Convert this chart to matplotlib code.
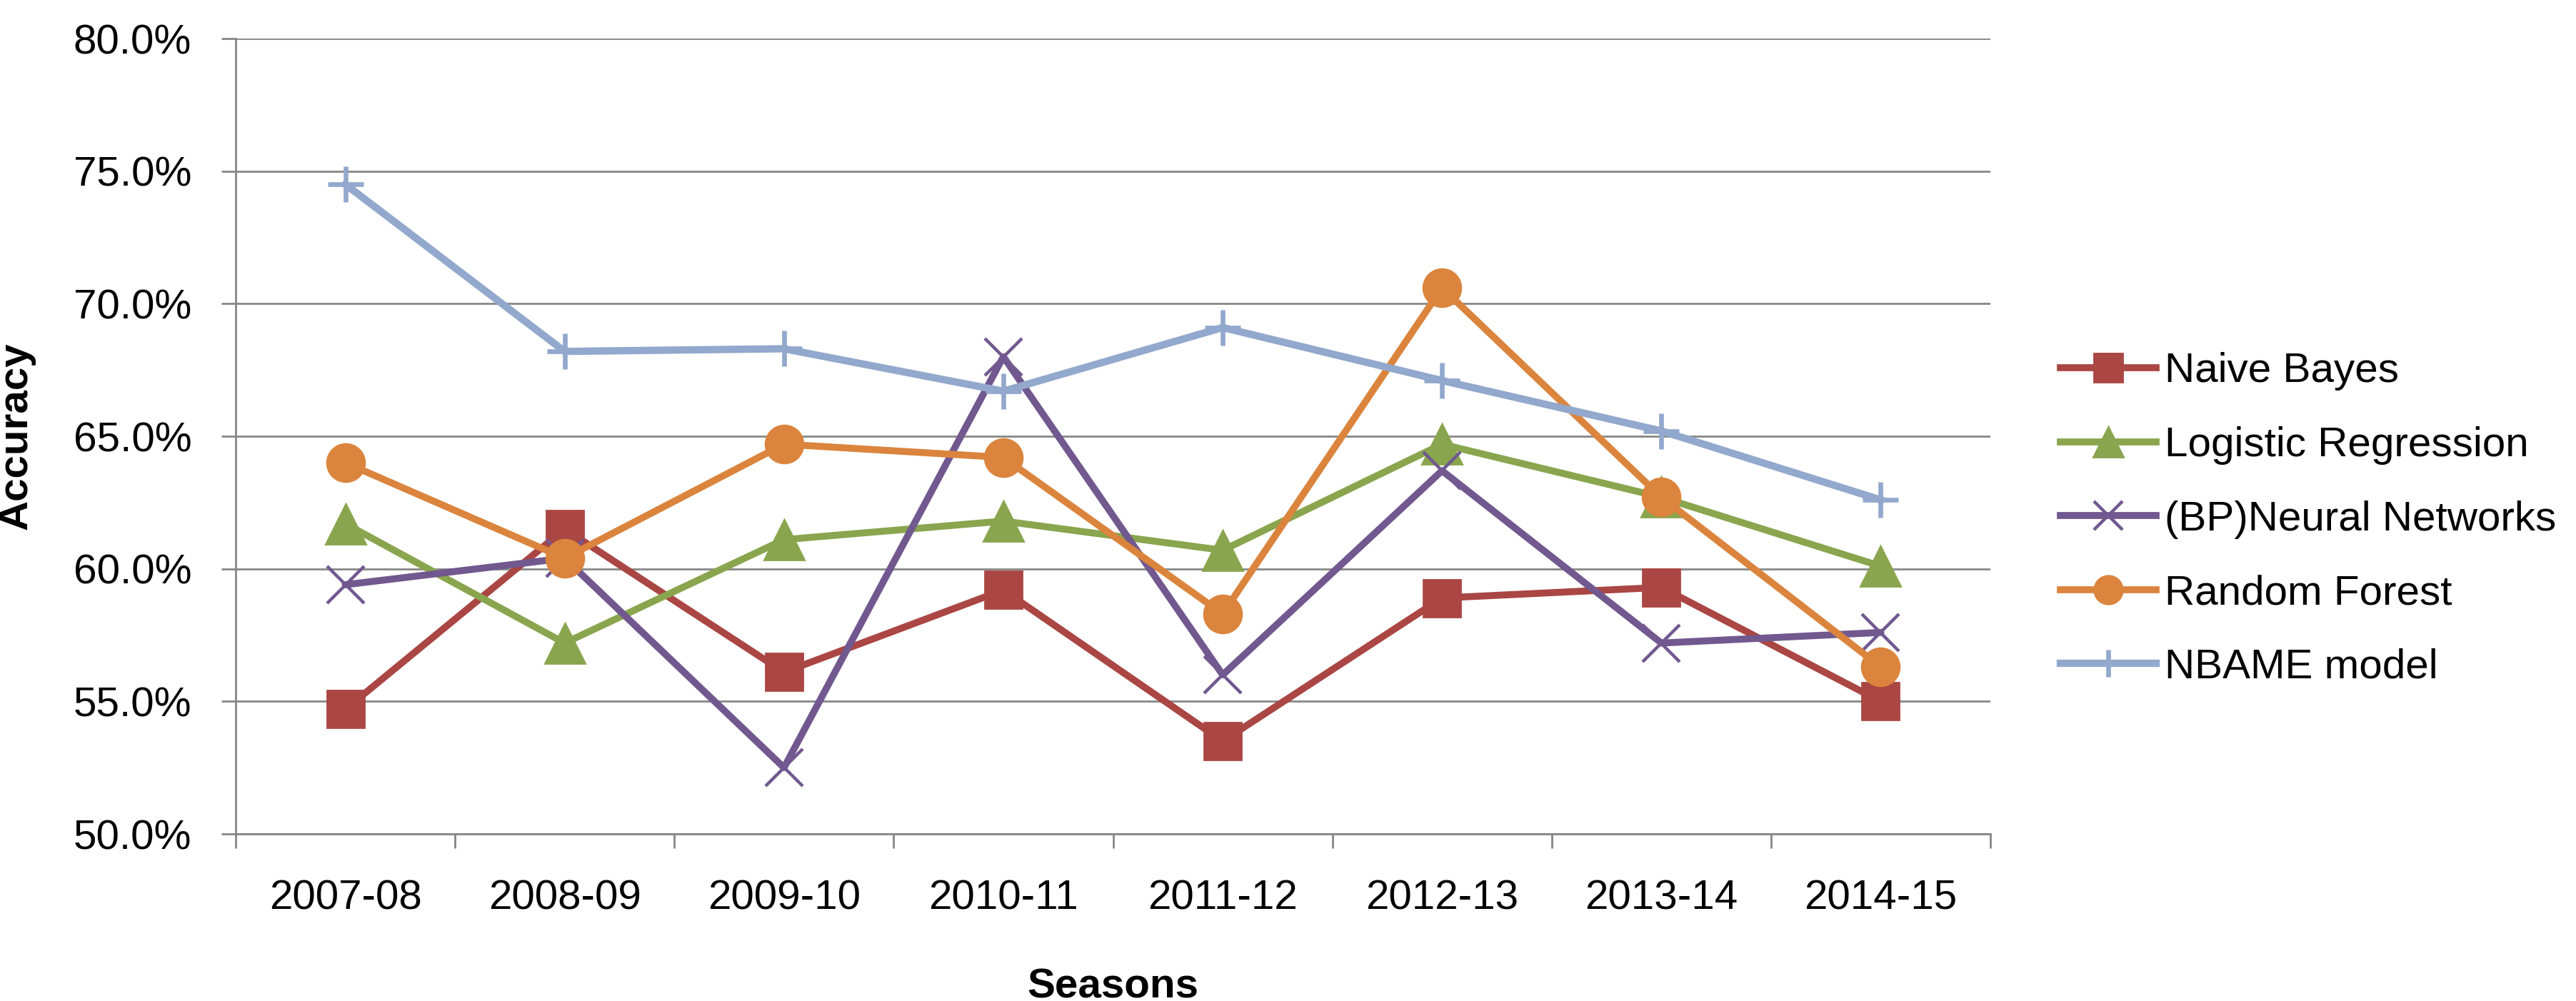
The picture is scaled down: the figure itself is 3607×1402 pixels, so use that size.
import numpy as np
import matplotlib
matplotlib.use("Agg")
import matplotlib.pyplot as plt
from matplotlib.ticker import FuncFormatter

plt.rcParams['font.family'] = ['Liberation Sans', 'DejaVu Sans']

# seasons on the x axis
seasons = ['2007-08', '2008-09', '2009-10', '2010-11',
           '2011-12', '2012-13', '2013-14', '2014-15']

# accuracy in percent
naive_bayes = [54.7, 61.5, 56.1, 59.2, 53.5, 58.9, 59.3, 55.0]
logistic_reg = [61.7, 57.2, 61.1, 61.8, 60.7, 64.7, 62.7, 60.1]
bp_neural = [59.4, 60.4, 52.5, 68.0, 56.0, 63.7, 57.2, 57.6]
random_forest = [64.0, 60.4, 64.7, 64.2, 58.3, 70.6, 62.7, 56.3]
nbame = [74.5, 68.2, 68.3, 66.7, 69.1, 67.1, 65.2, 62.6]

names = ['Naive Bayes', 'Logistic Regression', '(BP)Neural Networks',
         'Random Forest', 'NBAME model']
colors = ['#AA4643', '#89A54E', '#71588F', '#DB843D', '#92A8CD']

grey = '#868686'

fig = plt.figure(figsize=(3607 / 200, 1402 / 200), dpi=200)
ax = fig.add_axes([330 / 3607, 1 - 1168 / 1402,
                   (2787 - 330) / 3607, (1168 - 54) / 1402])

x = np.arange(1, len(seasons) + 1)

ax.plot(x, naive_bayes, color=colors[0], lw=3.5, marker='s', ms=19,
        mec=colors[0], mfc=colors[0], label=names[0])
ax.plot(x, logistic_reg, color=colors[1], lw=3.5, marker='^', ms=20.5,
        mec=colors[1], mfc=colors[1], label=names[1])
ax.plot(x, bp_neural, color=colors[2], lw=3.5, marker='x', ms=19,
        mew=1.6, mec=colors[2], label=names[2])
ax.plot(x, random_forest, color=colors[3], lw=3.5, marker='o', ms=19,
        mec=colors[3], mfc=colors[3], label=names[3])
ax.plot(x, nbame, color=colors[4], lw=3.7, marker='+', ms=18,
        mew=2.4, mec=colors[4], label=names[4])

ax.set_xlim(0.5, len(seasons) + 0.5)
ax.set_ylim(50, 80)
ax.set_yticks(np.arange(50, 80.1, 5))
ax.yaxis.set_major_formatter(FuncFormatter(lambda v, p: '%.1f%%' % v))

# ticks on category borders, labels in the middle
ax.set_xticks(np.arange(0.5, len(seasons) + 1, 1))
ax.set_xticklabels([])
ax.set_xticks(x, minor=True)
ax.set_xticklabels(seasons, minor=True)

ax.tick_params(axis='x', which='major', length=7.2, width=1.0, color=grey)
ax.tick_params(axis='x', which='minor', length=0, pad=23, labelsize=21)
ax.tick_params(axis='y', length=7.2, width=1.0, color=grey, pad=15,
               labelsize=21)

ax.grid(axis='y', color=grey, lw=1.0)
ax.set_axisbelow(True)
for s in ['top', 'right']:
    ax.spines[s].set_visible(False)
for s in ['left', 'bottom']:
    ax.spines[s].set_color(grey)
    ax.spines[s].set_linewidth(1.0)

ax.set_ylabel('Accuracy', fontsize=21, fontweight='bold')
ax.yaxis.set_label_coords(-0.114, 0.5)
ax.set_xlabel('Seasons', fontsize=21, fontweight='bold')
ax.xaxis.set_label_coords(0.5, -0.168)

fig.legend(loc='center left', bbox_to_anchor=(2885 / 3607, 0.481),
           frameon=False, fontsize=21, handlelength=2.3, handletextpad=0.2,
           labelspacing=0.85, borderpad=0, borderaxespad=0, markerscale=0.75)

fig.savefig('out.png', dpi=200)
